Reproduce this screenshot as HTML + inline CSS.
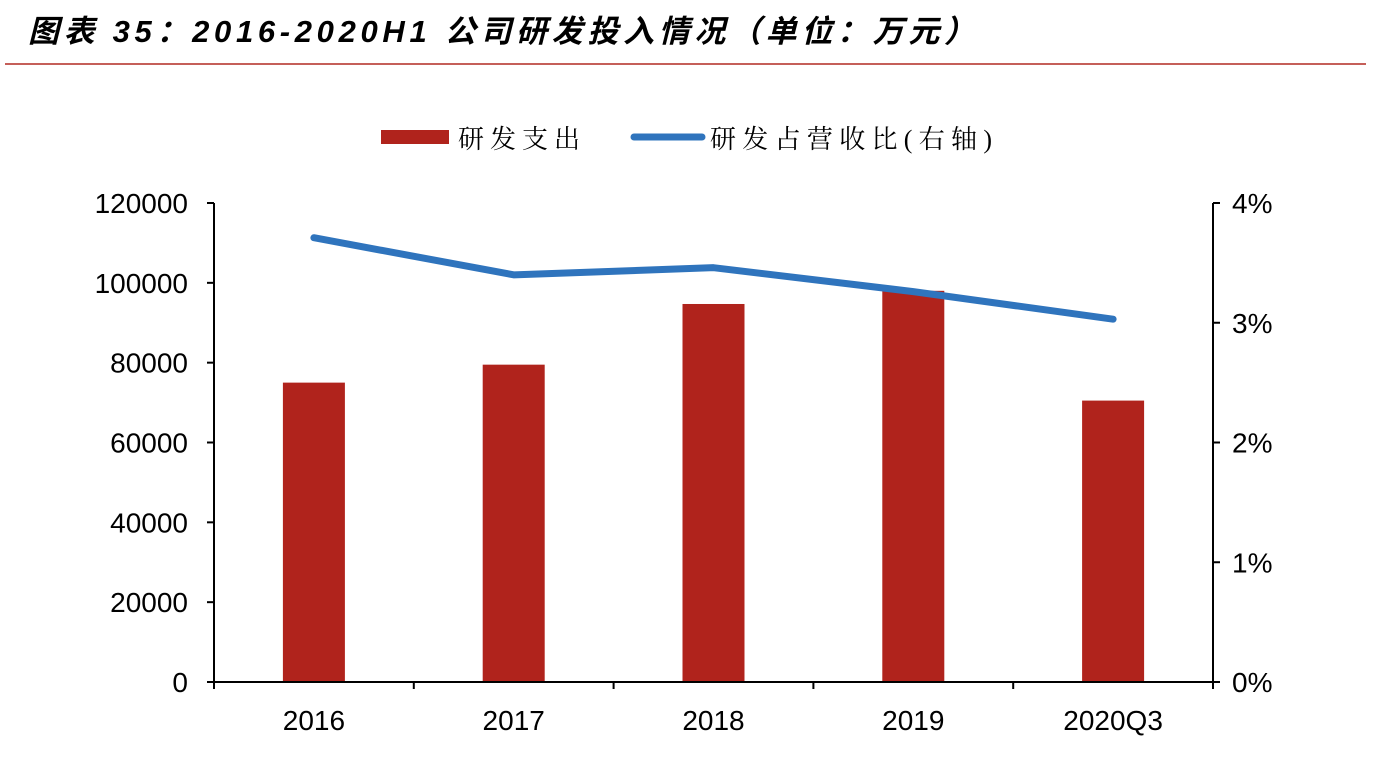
<!DOCTYPE html>
<html><head><meta charset="utf-8"><style>
body{margin:0;background:#fff;width:1374px;height:776px;overflow:hidden}
</style></head><body>
<svg id="chart" width="1374" height="776" xmlns="http://www.w3.org/2000/svg" font-family="Liberation Sans, Noto Sans CJK SC, sans-serif">
<text x="28" y="42" font-size="31" font-weight="bold" font-style="italic" fill="#000" textLength="947" lengthAdjust="spacing">图表 35：2016-2020H1 公司研发投入情况（单位：万元）</text>
<line x1="5" y1="64" x2="1366" y2="64" stroke="#b22a22" stroke-width="1.5"/>
<g>
<rect x="381" y="130" width="68" height="14" fill="#b0231c"/>
<text x="458" y="148" font-size="26" fill="#000" font-family="Liberation Serif, Noto Serif CJK SC, serif" textLength="122" lengthAdjust="spacing">研发支出</text>
<line x1="634" y1="137" x2="702" y2="137" stroke="#2f74bd" stroke-width="7" stroke-linecap="round"/>
<text x="710" y="148" font-size="26" fill="#000" font-family="Liberation Serif, Noto Serif CJK SC, serif" textLength="282" lengthAdjust="spacing">研发占营收比(右轴)</text>
</g>
<g id="plot"></g>
</svg>
<script>
const categories=["2016","2017","2018","2019","2020Q3"];
const spend=[75000,79500,94700,98000,70500];
const ratio=[3.71,3.40,3.46,3.26,3.03];
const leftTicks=[0,20000,40000,60000,80000,100000,120000];
const rightTicks=[0,1,2,3,4];
const NS="http://www.w3.org/2000/svg";
const g=document.getElementById("plot");
const X0=214,X1=1213,Y0=682,Y1=203;
const yL=v=>Y0-(v/120000)*(Y0-Y1);
const yR=v=>Y0-(v/4)*(Y0-Y1);
const band=(X1-X0)/categories.length;
const xC=i=>X0+band*(i+0.5);
function mk(t,a,txt){const e=document.createElementNS(NS,t);for(const k in a)e.setAttribute(k,a[k]);if(txt!==undefined)e.textContent=txt;g.appendChild(e);return e;}
spend.forEach((v,i)=>{
 const r=mk("rect",{x:xC(i)-31,y:yL(v),width:62,height:Y0-yL(v),fill:"#b0231c"});
 
 
});
const st={stroke:"#000","stroke-width":2};
let a=mk("line",Object.assign({x1:X0,y1:Y1,x2:X0,y2:Y0},st));


a=mk("line",Object.assign({x1:X1,y1:Y1,x2:X1,y2:Y0},st));


a=mk("line",Object.assign({x1:X0,y1:Y0,x2:X1,y2:Y0},st));


leftTicks.forEach(v=>{
 const tk=mk("line",Object.assign({x1:X0-7,y1:yL(v),x2:X0,y2:yL(v)},st));
 
 
 const t=mk("text",{x:X0-26,y:yL(v)+10,"text-anchor":"end","font-size":28,fill:"#000"},String(v));
 
 
});
rightTicks.forEach(v=>{
 const tk=mk("line",Object.assign({x1:X1,y1:yR(v),x2:X1+7,y2:yR(v)},st));
 
 
 const t=mk("text",{x:X1+19,y:yR(v)+10,"font-size":28,fill:"#000"},v+"%");
 
 
});
for(let i=0;i<=categories.length;i++){
 const tk=mk("line",Object.assign({x1:X0+band*i,y1:Y0,x2:X0+band*i,y2:Y0+7},st));
 
 
}
categories.forEach((c,i)=>{
 const t=mk("text",{x:xC(i),y:730,"text-anchor":"middle","font-size":28,fill:"#000"},c);
 
 
});
const pts=ratio.map((v,i)=>xC(i)+","+yR(v)).join(" ");
const pl=mk("polyline",{points:pts,fill:"none",stroke:"#2f74bd","stroke-width":7,"stroke-linejoin":"round","stroke-linecap":"round"});


</script>
</body></html>
